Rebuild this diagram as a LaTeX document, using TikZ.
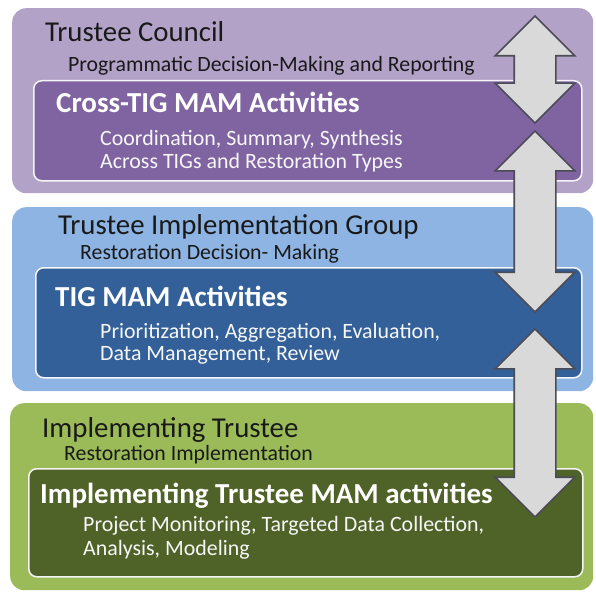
\documentclass[tikz,border=0pt]{standalone}
\usepackage{fontspec}
\setmainfont{Carlito}
\usetikzlibrary{shapes.arrows}
\definecolor{councilback}{HTML}{B3A2C7}
\definecolor{councilcore}{HTML}{8064A2}
\definecolor{groupback}{HTML}{8EB4E3}
\definecolor{groupcore}{HTML}{336098}
\definecolor{trusteeback}{HTML}{9BBB59}
\definecolor{trusteecore}{HTML}{4F6228}
\definecolor{arrowfill}{HTML}{D9D9D9}
\definecolor{arrowline}{HTML}{4C4C58}

\begin{document}
\begin{tikzpicture}[x=1pt, y=-1pt,
  panel/.style={anchor=north west, rounded corners=14pt, inner sep=0pt,
                minimum width=581pt},
  core/.style={anchor=north west, draw=white!92!gray, line width=1.5pt,
               rounded corners=8pt, inner sep=0pt},
  head/.style={anchor=base west, inner sep=0pt, text=black!90,
               font=\fontsize{28.8}{32}\selectfont},
  role/.style={anchor=base west, inner sep=0pt, text=black!90,
               font=\fontsize{21.8}{24}\selectfont},
  mam/.style={anchor=base west, inner sep=0pt, text=white,
              font=\bfseries\fontsize{29}{32}\selectfont},
  task/.style={anchor=base west, inner sep=0pt, text=white!94!gray,
               font=\fontsize{21.9}{24}\selectfont},
  flow/.style={double arrow, double arrow head extend=19pt,
               double arrow tip angle=90, minimum width=78pt,
               inner xsep=0pt, inner ysep=20pt,
               rotate=90, fill=arrowfill, draw=arrowline, line width=1.6pt}]
  \useasboundingbox (0,0) rectangle (595,596);
  % three tiers
  \node[panel, fill=councilback, minimum height=185pt] (council) at (12,8) {};
  \node[panel, fill=groupback, minimum height=184pt] (group) at (12,207) {};
  \node[panel, fill=trusteeback, minimum width=583pt, minimum height=187pt] (trustee) at (10,403) {};
  \node[core, fill=councilcore, minimum width=548pt, minimum height=100pt] (councilmam) at (33,80) {};
  \node[core, fill=groupcore, minimum width=546pt, minimum height=110pt] (groupmam) at (35,267) {};
  \node[core, fill=trusteecore, minimum width=554pt, minimum height=108pt] (trusteemam) at (28,468) {};
  % texts
  \node[head] (councilname) at (45,42) {Trustee Council};
  \node[role] (councilrole) at (68,72) {Programmatic Decision-Making and Reporting};
  \node[mam] (councilhead) at (56,113) {Cross-TIG MAM Activities};
  \node[task] (counciltaskA) at (100,146) {Coordination, Summary, Synthesis};
  \node[task] (counciltaskB) at (100,168) {Across TIGs and Restoration Types};
  \node[head] (groupname) at (58,234) {Trustee Implementation Group};
  \node[role] (grouprole) at (80,259) {Restoration Decision- Making};
  \node[mam] (grouphead) at (55,306) {TIG MAM Activities};
  \node[task] (grouptaskA) at (100,338) {Prioritization, Aggregation, Evaluation,};
  \node[task] (grouptaskB) at (100,360) {Data Management, Review};
  \node[head] (trusteename) at (42,437) {Implementing Trustee};
  \node[role] (trusteerole) at (64,460) {Restoration Implementation};
  \node[mam] (trusteehead) at (40,503) {Implementing Trustee MAM activities};
  \node[task] (trusteetaskA) at (83,531) {Project Monitoring, Targeted Data Collection,};
  \node[task] (trusteetaskB) at (83,555) {Analysis, Modeling};
  % arrows between tiers
  \node[flow, minimum height=107pt] (linkA) at (535,69.5) {};
  \node[flow, minimum height=181pt] (linkB) at (535,221.5) {};
  \node[flow, minimum height=188pt] (linkC) at (535,423) {};
\end{tikzpicture}
\end{document}
